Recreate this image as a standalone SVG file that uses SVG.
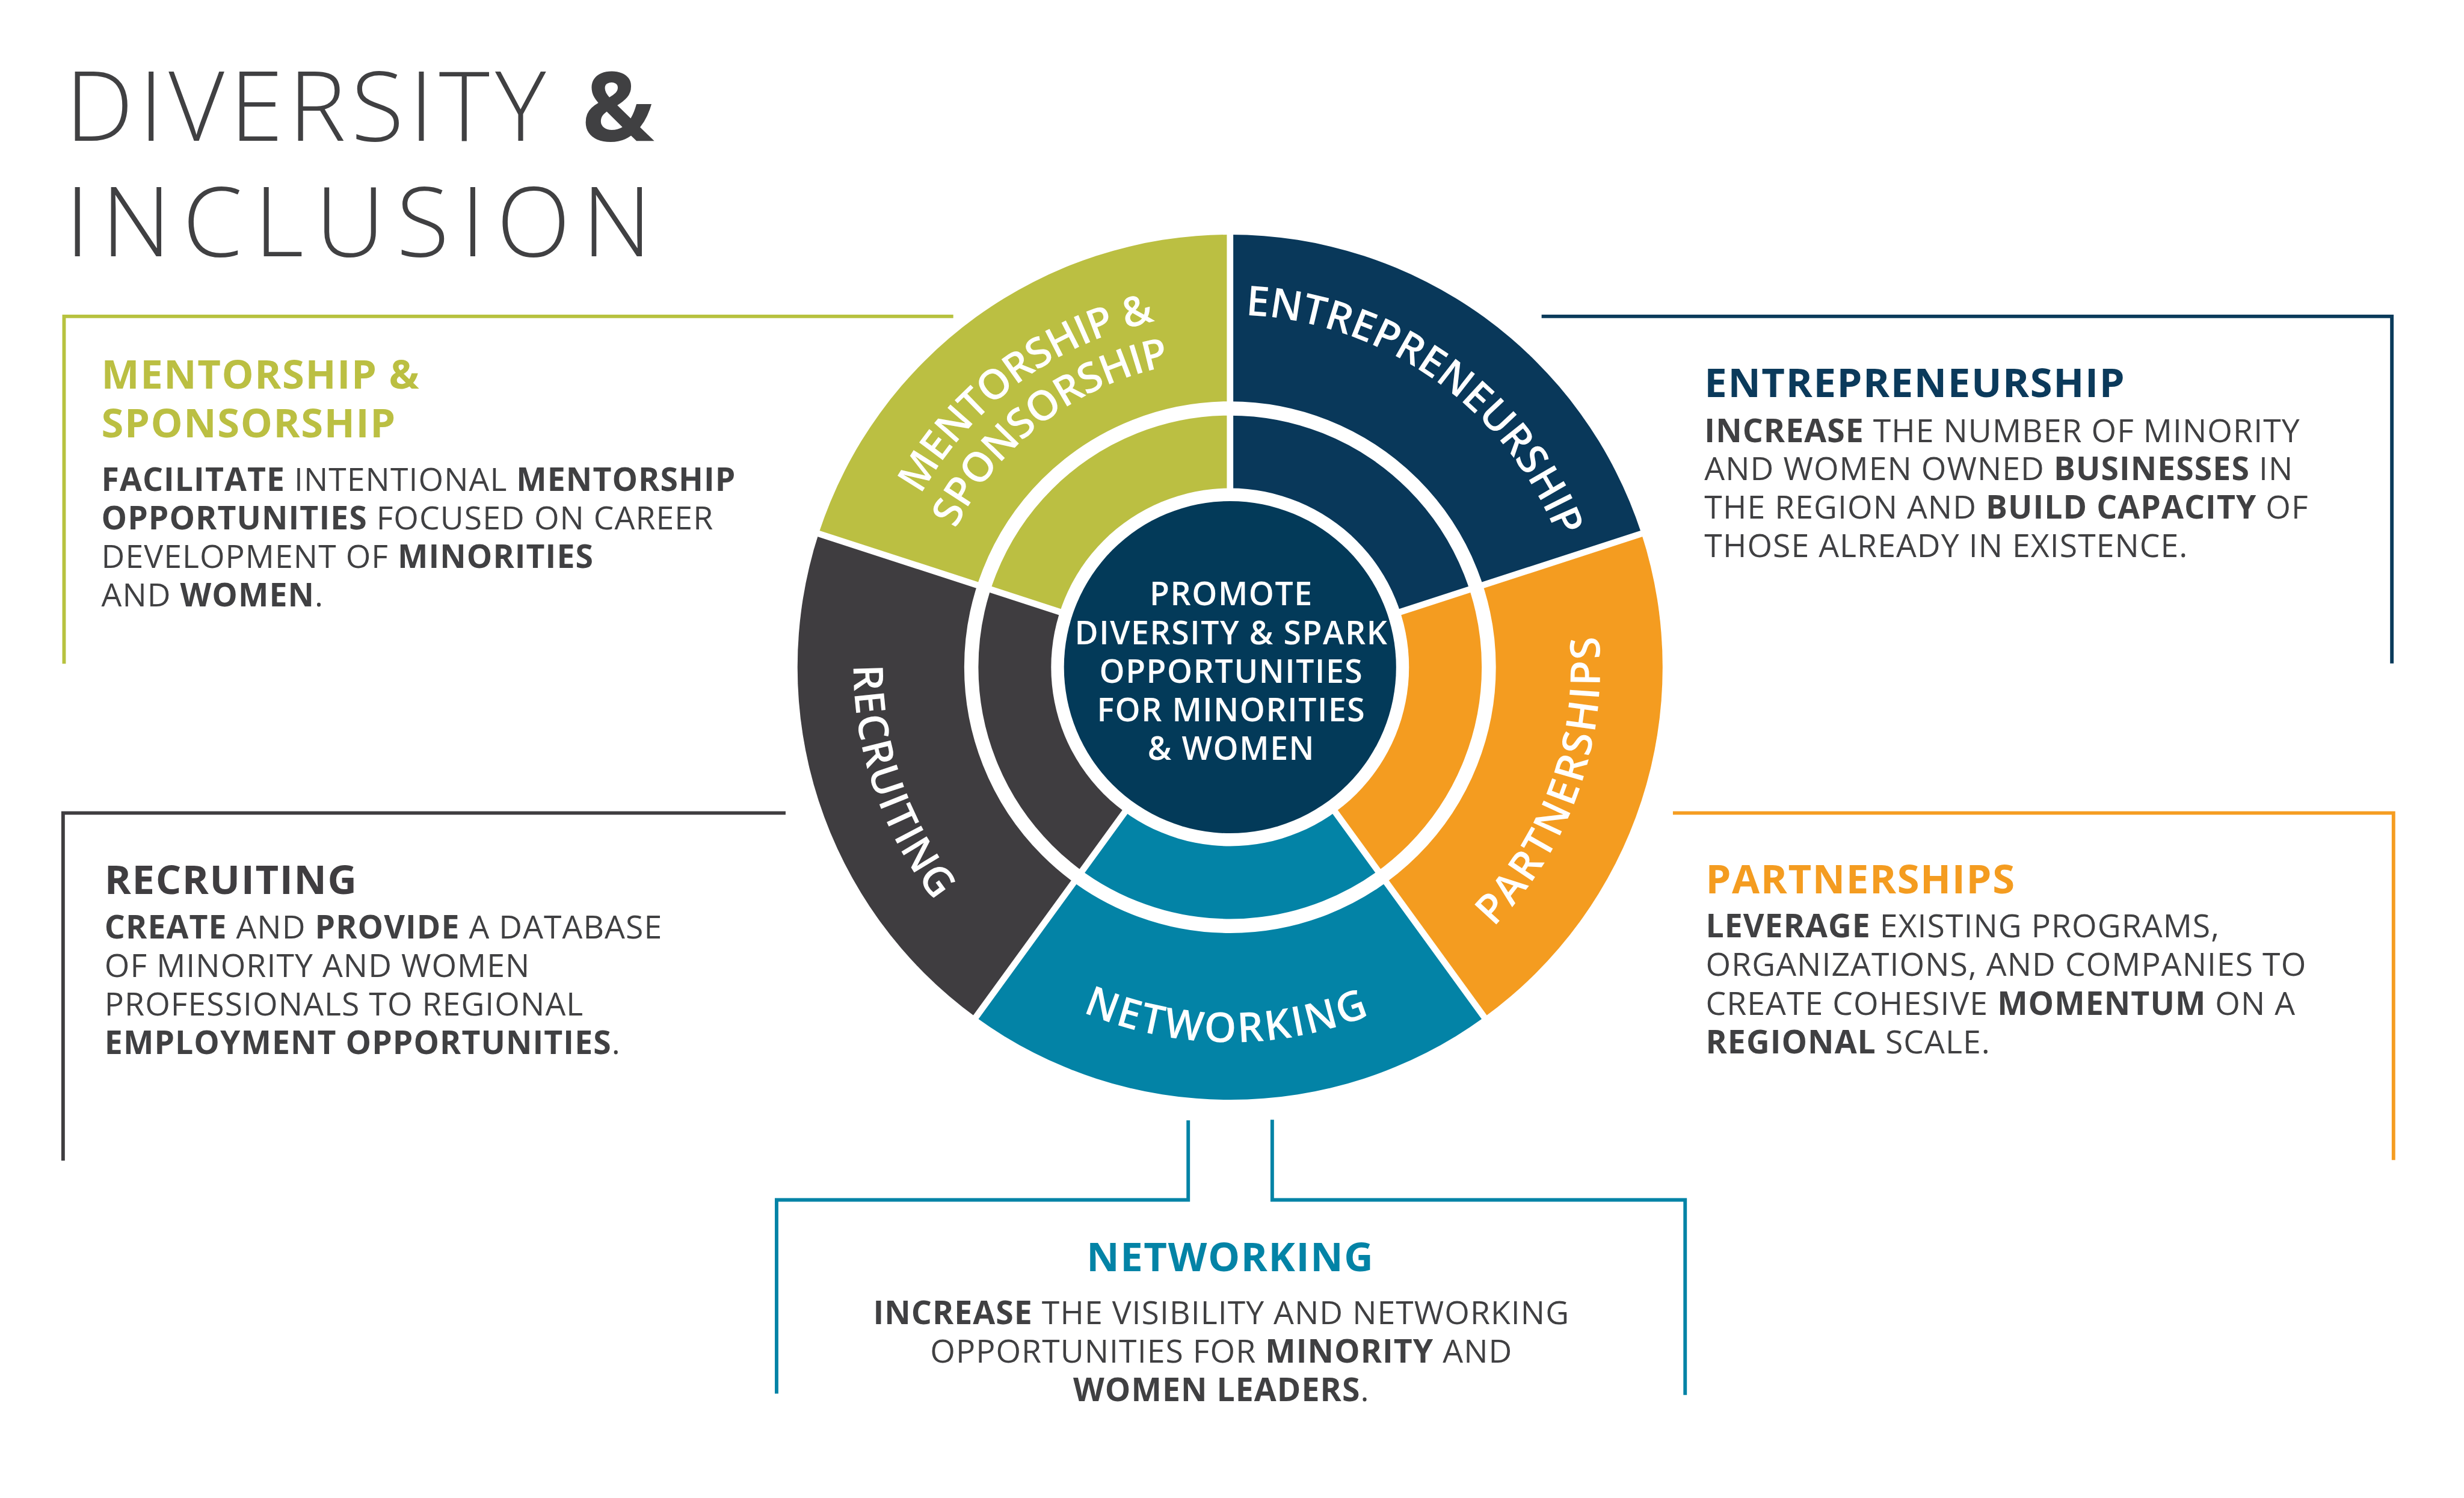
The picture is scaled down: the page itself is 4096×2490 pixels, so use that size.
<svg xmlns="http://www.w3.org/2000/svg" width="4096" height="2490" viewBox="0 0 4096 2490">
<style>
.t{font-family:"Open Sans","Liberation Sans",sans-serif}
.title{font-size:300px;fill:#404042;font-weight:300}
.body{font-size:100px;fill:#404042;font-weight:400;letter-spacing:2px}
.b{font-weight:700}
.h{font-size:125px;font-weight:700;letter-spacing:3px}
.wl{font-size:128px;fill:#ffffff;font-weight:600}
.ctr{font-size:100px;fill:#ffffff;font-weight:600;text-anchor:middle;letter-spacing:3px}
.ln{fill:none;stroke-width:11;stroke-linecap:butt;stroke-linejoin:miter}
.sep{stroke:#ffffff;stroke-width:20;fill:none}
</style>
<defs>
<path id="arcEnt" d="M3367.9,1076.5 A1095,1095 0 0 1 4912.0,2177.9"/>
<path id="arcMen" d="M2729.3,2199.4 A1100,1100 0 0 1 4258.9,1063.5"/>
<path id="arcSpo" d="M2874.7,2194.3 A955,955 0 0 1 4190.5,1192.0"/>
<path id="arcRec" d="M2937.7,1307.0 A1170,1170 0 0 0 3600.8,3221.9"/>
<path id="arcNet" d="M2808.0,2646.7 A1165,1165 0 0 0 4825.8,2664.3"/>
<path id="arcPar" d="M4026.6,3204.6 A1150,1150 0 0 0 4699.7,1330.0"/>
</defs>
<rect x="0" y="0" width="4096" height="2490" fill="#ffffff"/>
<g transform="scale(0.535)">
<g id="title" class="t">
<text class="title" x="203" y="437" textLength="1830" lengthAdjust="spacing">DIVERSITY <tspan font-weight="700">&amp;</tspan></text>
<text class="title" x="203" y="797" textLength="1822" lengthAdjust="spacing">INCLUSION</text>
</g>
<g id="connectors">
<path class="ln" stroke="#b7c23f" d="M2962,983 H199 V2062"/>
<path class="ln" stroke="#3f3d40" d="M2441,2526 H196 V3606"/>
<path class="ln" stroke="#0b3b5b" d="M4790,983 H7432 V2061"/>
<path class="ln" stroke="#f59d22" d="M5198,2526 H7437 V3604"/>
<path class="ln" stroke="#0383a6" d="M3692,3481 V3728 H2413 V4330"/>
<path class="ln" stroke="#0383a6" d="M3953,3479 V3728 H5236 V4334"/>
</g>
<g id="wheel">
<g id="seg-entrepreneurship"><path fill="#09385a" d="M3822,2073 L3822,729 A1344,1344 0 0 1 5100.2,1657.7 Z"/></g>
<g id="seg-partnerships"><path fill="#f49c20" d="M3822,2073 L5100.2,1657.7 A1344,1344 0 0 1 4612.0,3160.3 Z"/></g>
<g id="seg-networking"><path fill="#0383a6" d="M3822,2073 L4612.0,3160.3 A1344,1344 0 0 1 3032.0,3160.3 Z"/></g>
<g id="seg-recruiting"><path fill="#3f3d40" d="M3822,2073 L3032.0,3160.3 A1344,1344 0 0 1 2543.8,1657.7 Z"/></g>
<g id="seg-mentorship"><path fill="#bbbf42" d="M3822,2073 L2543.8,1657.7 A1344,1344 0 0 1 3822,729 Z"/></g>
<g id="separators">
<line class="sep" x1="3822" y1="2073" x2="3822" y2="700"/>
<line class="sep" x1="3822" y1="2073" x2="5128" y2="1649"/>
<line class="sep" x1="3822" y1="2073" x2="4629" y2="3184"/>
<line class="sep" x1="3822" y1="2073" x2="3015" y2="3184"/>
<line class="sep" x1="3822" y1="2073" x2="2516" y2="1649"/>
<circle cx="3822" cy="2073" r="804" fill="none" stroke="#ffffff" stroke-width="44"/>
<circle cx="3822" cy="2073" r="556" fill="#ffffff"/>
</g>
<g id="center" class="t">
<circle cx="3822" cy="2073" r="516" fill="#033a59"/>
<text class="ctr" x="3826" y="1881">PROMOTE</text>
<text class="ctr" x="3826" y="2001">DIVERSITY &amp; SPARK</text>
<text class="ctr" x="3826" y="2121">OPPORTUNITIES</text>
<text class="ctr" x="3826" y="2241">FOR MINORITIES</text>
<text class="ctr" x="3826" y="2361">&amp; WOMEN</text>
</g>
<g id="wheel-labels" class="t">
<text class="wl" text-anchor="middle" letter-spacing="0"><textPath href="#arcEnt" startOffset="50%">ENTREPRENEURSHIP</textPath></text>
<text class="wl" text-anchor="middle" letter-spacing="-2"><textPath href="#arcMen" startOffset="50%">MENTORSHIP &amp;</textPath></text>
<text class="wl" text-anchor="middle" letter-spacing="-2"><textPath href="#arcSpo" startOffset="50%">SPONSORSHIP</textPath></text>
<text class="wl" text-anchor="middle" letter-spacing="4"><textPath href="#arcRec" startOffset="50%">RECRUITING</textPath></text>
<text class="wl" text-anchor="middle" letter-spacing="6"><textPath href="#arcNet" startOffset="50%">NETWORKING</textPath></text>
<text class="wl" text-anchor="middle" letter-spacing="6"><textPath href="#arcPar" startOffset="50%">PARTNERSHIPS</textPath></text>
</g>
</g>
<g id="node-mentorship" class="t">
<text class="h" x="315" y="1208" fill="#bbbf42">MENTORSHIP &amp;</text>
<text class="h" x="315" y="1358" fill="#bbbf42">SPONSORSHIP</text>
<text class="body" x="315" y="1525"><tspan class="b">FACILITATE</tspan> INTENTIONAL <tspan class="b">MENTORSHIP</tspan></text>
<text class="body" x="315" y="1645"><tspan class="b">OPPORTUNITIES</tspan> FOCUSED ON CAREER</text>
<text class="body" x="315" y="1764">DEVELOPMENT OF <tspan class="b">MINORITIES</tspan></text>
<text class="body" x="315" y="1884">AND <tspan class="b">WOMEN</tspan>.</text>
</g>
<g id="node-recruiting" class="t">
<text class="h" x="325" y="2777" fill="#3f3d40">RECRUITING</text>
<text class="body" x="325" y="2915"><tspan class="b">CREATE</tspan> AND <tspan class="b">PROVIDE</tspan> A DATABASE</text>
<text class="body" x="325" y="3035">OF MINORITY AND WOMEN</text>
<text class="body" x="325" y="3155">PROFESSIONALS TO REGIONAL</text>
<text class="body" x="325" y="3275"><tspan class="b">EMPLOYMENT OPPORTUNITIES</tspan>.</text>
</g>
<g id="node-entrepreneurship" class="t">
<text class="h" x="5296" y="1234" fill="#0b3a5b">ENTREPRENEURSHIP</text>
<text class="body" x="5296" y="1373"><tspan class="b">INCREASE</tspan> THE NUMBER OF MINORITY</text>
<text class="body" x="5296" y="1492">AND WOMEN OWNED <tspan class="b">BUSINESSES</tspan> IN</text>
<text class="body" x="5296" y="1612">THE REGION AND <tspan class="b">BUILD CAPACITY</tspan> OF</text>
<text class="body" x="5296" y="1731">THOSE ALREADY IN EXISTENCE.</text>
</g>
<g id="node-partnerships" class="t">
<text class="h" x="5300" y="2775" fill="#f49c20">PARTNERSHIPS</text>
<text class="body" x="5300" y="2912"><tspan class="b">LEVERAGE</tspan> EXISTING PROGRAMS,</text>
<text class="body" x="5300" y="3032">ORGANIZATIONS, AND COMPANIES TO</text>
<text class="body" x="5300" y="3153">CREATE COHESIVE <tspan class="b">MOMENTUM</tspan> ON A</text>
<text class="body" x="5300" y="3273"><tspan class="b">REGIONAL</tspan> SCALE.</text>
</g>
<g id="node-networking" class="t">
<text class="h" x="3823" y="3949" fill="#0383a6" text-anchor="middle">NETWORKING</text>
<text class="body" x="3795" y="4114" text-anchor="middle"><tspan class="b">INCREASE</tspan> THE VISIBILITY AND NETWORKING</text>
<text class="body" x="3795" y="4234" text-anchor="middle">OPPORTUNITIES FOR <tspan class="b">MINORITY</tspan> AND</text>
<text class="body" x="3795" y="4354" text-anchor="middle"><tspan class="b">WOMEN LEADERS</tspan>.</text>
</g>
</g>
</svg>
